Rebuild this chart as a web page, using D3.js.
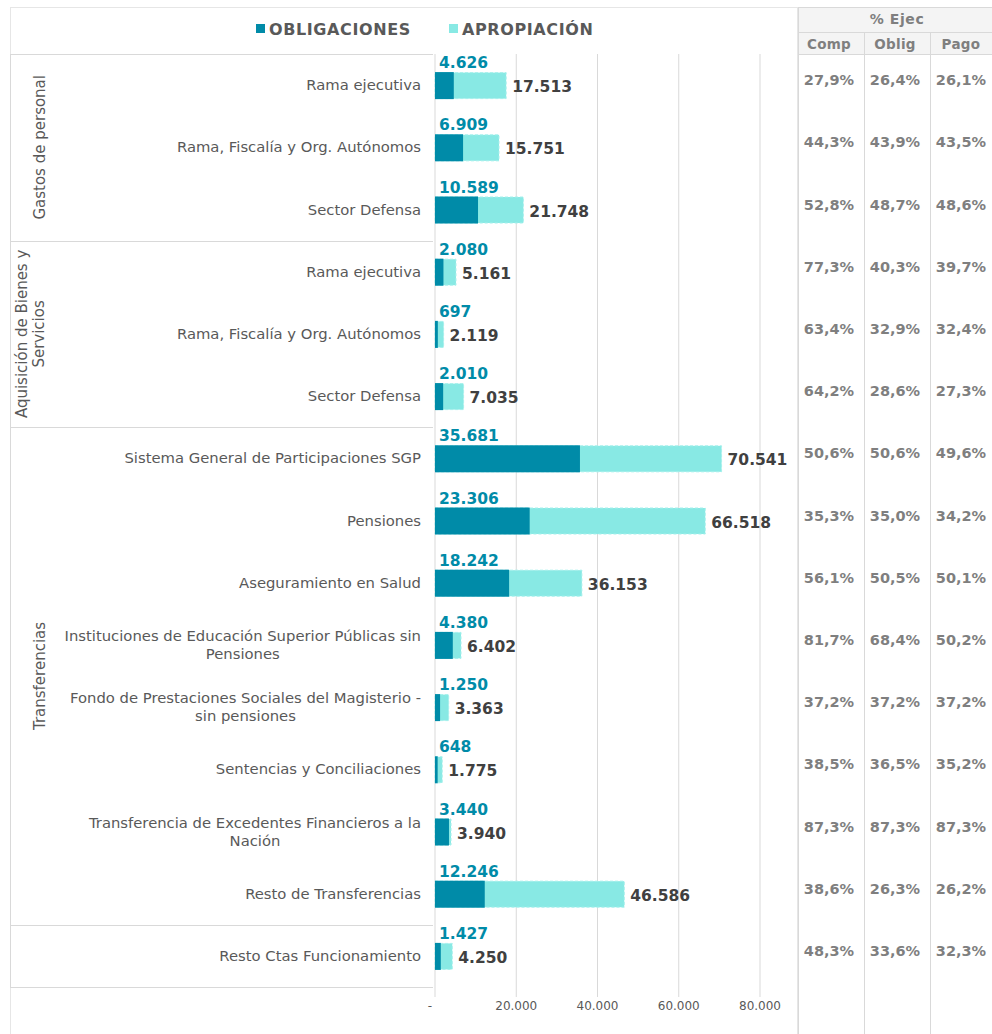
<!DOCTYPE html>
<html>
<head>
<meta charset="utf-8">
<script src="https://cdn.jsdelivr.net/npm/d3@7"></script>
<style>
  body { margin: 0; background: #fff; }
  text { font-family: "DejaVu Sans", Verdana, sans-serif; }
  .bold { font-weight: bold; }
</style>
</head>
<body>
<div id="chart"></div>
<script>
const categories = [
  "Rama ejecutiva", "Rama, Fiscalía y Org. Autónomos", "Sector Defensa",
  "Rama ejecutiva", "Rama, Fiscalía y Org. Autónomos", "Sector Defensa",
  "Sistema General de Participaciones SGP", "Pensiones", "Aseguramiento en Salud",
  "Instituciones de Educación Superior Públicas sin|Pensiones",
  "Fondo de Prestaciones Sociales del Magisterio -|sin pensiones",
  "Sentencias y Conciliaciones",
  "Transferencia de Excedentes Financieros a la|Nación",
  "Resto de Transferencias", "Resto Ctas Funcionamiento"
];
const groups = ["Gastos de personal", "Aquisición de Bienes y|Servicios", "Transferencias", ""];
const groupSizes = [3, 3, 8, 1];
const obligaciones = [4626, 6909, 10589, 2080, 697, 2010, 35681, 23306, 18242, 4380, 1250, 648, 3440, 12246, 1427];
const apropiacion = [17513, 15751, 21748, 5161, 2119, 7035, 70541, 66518, 36153, 6402, 3363, 1775, 3940, 46586, 4250];
const pctComp = [27.9, 44.3, 52.8, 77.3, 63.4, 64.2, 50.6, 35.3, 56.1, 81.7, 37.2, 38.5, 87.3, 38.6, 48.3];
const pctOblig = [26.4, 43.9, 48.7, 40.3, 32.9, 28.6, 50.6, 35.0, 50.5, 68.4, 37.2, 36.5, 87.3, 26.3, 33.6];
const pctPago = [26.1, 43.5, 48.6, 39.7, 32.4, 27.3, 49.6, 34.2, 50.1, 50.2, 37.2, 35.2, 87.3, 26.2, 32.3];
const tableCols = ["Comp", "Oblig", "Pago"];
const xTicks = [0, 20000, 40000, 60000, 80000];

const W = 992, H = 1034;
const dark = "#008ba8", light = "#88e9e4", grid = "#d9d9d9";
const loc = d3.formatLocale({decimal: ",", thousands: ".", grouping: [3], currency: ["", ""]});
const fmt = loc.format(",d");
const pct = v => v.toFixed(1).replace(".", ",") + "%";

const svg = d3.select("#chart").append("svg")
  .attr("width", W).attr("height", H);

const plotTop = 54, plotBottom = 987;
const x = d3.scaleLinear().domain([0, 80000]).range([435, 760]);
const y = d3.scaleBand().domain(d3.range(categories.length)).range([plotTop, plotBottom]);

// outer frame
svg.append("rect").attr("x", 10.5).attr("y", 7.5).attr("width", 787).attr("height", 1030)
  .attr("fill", "none").attr("stroke", "#e6e6e6");

// gridlines
svg.append("g").selectAll("line").data(xTicks).join("line")
  .attr("x1", d => x(d)).attr("x2", d => x(d))
  .attr("y1", plotTop).attr("y2", plotBottom + 10)
  .attr("stroke", grid);

// x axis labels
svg.append("g").selectAll("text").data(xTicks).join("text")
  .attr("x", d => d === 0 ? x(d) - 5 : x(d))
  .attr("y", 1010)
  .attr("text-anchor", "middle")
  .attr("font-size", 12).attr("fill", "#595959")
  .text(d => d === 0 ? "-" : fmt(d));

// group separators and labels
let start = 0;
const bounds = [plotTop];
groupSizes.forEach((n, gi) => {
  const y0 = y(start), y1 = y(start + n - 1) + y.bandwidth();
  bounds.push(y1);
  const lines = groups[gi].split("|");
  const cy = (y0 + y1) / 2;
  const g = svg.append("text")
    .attr("transform", `translate(${lines.length > 1 ? 30 : 40},${cy}) rotate(-90)`)
    .attr("text-anchor", "middle").attr("font-size", 15).attr("fill", "#595959");
  lines.forEach((l, i) => g.append("tspan").attr("x", 0)
    .attr("dy", i === 0 ? (0.35 - (lines.length - 1) * 0.55) + "em" : "1.1em").text(l));
  start += n;
});
svg.append("g").selectAll("line").data(bounds).join("line")
  .attr("x1", 10).attr("x2", 433)
  .attr("y1", d => Math.round(d) + 0.5).attr("y2", d => Math.round(d) + 0.5)
  .attr("stroke", grid);
svg.append("line").attr("x1", 10.5).attr("x2", 10.5).attr("y1", plotTop).attr("y2", plotBottom).attr("stroke", grid);

// category labels
categories.forEach((c, i) => {
  const lines = c.split("|");
  const cy = y(i) + y.bandwidth() / 2;
  const t = svg.append("text").attr("font-size", 14.8).attr("fill", "#595959")
    .attr("text-anchor", lines.length > 1 ? "middle" : "end");
  const spans = lines.map((l, k) => t.append("tspan").text(l)
    .attr("dy", k === 0 ? (0.35 - (lines.length - 1) * 0.61) + "em" : "1.22em"));
  if (lines.length > 1) {
    const w = spans[0].node().getComputedTextLength();
    spans.forEach(s => s.attr("x", 421 - w / 2));
  } else {
    spans[0].attr("x", 421);
  }
  t.attr("y", cy);
});

const bh = 26;
const bars = svg.append("g");
// appropriation bars
bars.selectAll(".apr").data(apropiacion).join("rect")
  .attr("x", x(0))
  .attr("y", (d, i) => y(i) + y.bandwidth() / 2 - bh / 2 + 0.5)
  .attr("width", d => x(d) - x(0))
  .attr("height", bh)
  .attr("fill", light).attr("stroke", "#a6f0ec").attr("stroke-dasharray", "3,2");
// obligation bars
bars.selectAll(".obl").data(obligaciones).join("rect")
  .attr("x", x(0))
  .attr("y", (d, i) => y(i) + y.bandwidth() / 2 - bh / 2)
  .attr("width", d => x(d) - x(0))
  .attr("height", bh + 1)
  .attr("fill", dark);

// labels
svg.append("g").selectAll("text").data(obligaciones).join("text")
  .attr("class", "bold")
  .attr("x", x(0) + 4)
  .attr("y", (d, i) => y(i) + y.bandwidth() / 2 - bh / 2 - 4)
  .attr("font-size", 15.5).attr("fill", dark)
  .text(d => fmt(d));
svg.append("g").selectAll("text").data(apropiacion).join("text")
  .attr("class", "bold")
  .attr("x", d => x(d) + 6)
  .attr("y", (d, i) => y(i) + y.bandwidth() / 2 + 7)
  .attr("font-size", 15.5).attr("fill", "#404040")
  .text(d => fmt(d));

// legend
const legend = [["OBLIGACIONES", dark, 256], ["APROPIACIÓN", light, 449]];
legend.forEach(([t, c, lx]) => {
  svg.append("rect").attr("x", lx).attr("y", 24).attr("width", 9).attr("height", 9).attr("fill", c);
  svg.append("text").attr("class", "bold").attr("x", lx + 13).attr("y", 35)
    .attr("font-size", 16).attr("letter-spacing", 0.6).attr("fill", "#595959").text(t);
});

// right table
const tx = d3.scaleBand().domain(tableCols).range([798, 996]);
svg.append("rect").attr("x", 798).attr("y", 7).attr("width", 194).attr("height", 47)
  .attr("fill", "#f4f4f4");
svg.append("line").attr("x1", 798).attr("x2", 992).attr("y1", 7.5).attr("y2", 7.5).attr("stroke", grid);
svg.append("line").attr("x1", 798).attr("x2", 992).attr("y1", 32.5).attr("y2", 32.5).attr("stroke", grid);
svg.append("line").attr("x1", 798).attr("x2", 992).attr("y1", 54.5).attr("y2", 54.5).attr("stroke", grid);
svg.append("line").attr("x1", 798.5).attr("x2", 798.5).attr("y1", 7).attr("y2", H).attr("stroke", grid);
svg.append("g").selectAll("line").data(tableCols.slice(1)).join("line")
  .attr("x1", d => Math.round(tx(d)) + 0.5).attr("x2", d => Math.round(tx(d)) + 0.5)
  .attr("y1", 32).attr("y2", H).attr("stroke", grid);
svg.append("text").attr("class", "bold").attr("x", 897).attr("y", 24)
  .attr("text-anchor", "middle").attr("font-size", 14).attr("letter-spacing", 0.6)
  .attr("fill", "#7f7f7f").text("% Ejec");
svg.append("g").selectAll("text").data(tableCols).join("text")
  .attr("class", "bold")
  .attr("x", d => tx(d) + tx.bandwidth() / 2 - 2)
  .attr("y", 49).attr("text-anchor", "middle")
  .attr("font-size", 13.5).attr("letter-spacing", 0.3).attr("fill", "#7f7f7f").text(d => d);

const tableData = [pctComp, pctOblig, pctPago];
tableData.forEach((col, ci) => {
  svg.append("g").selectAll("text").data(col).join("text")
    .attr("class", "bold")
    .attr("x", tx(tableCols[ci]) + tx.bandwidth() / 2 - 2)
    .attr("y", (d, i) => y(i) + y.bandwidth() / 2)
    .attr("text-anchor", "middle")
    .attr("font-size", 14.5).attr("fill", "#7f7f7f")
    .text(d => pct(d));
});
</script>
</body>
</html>
